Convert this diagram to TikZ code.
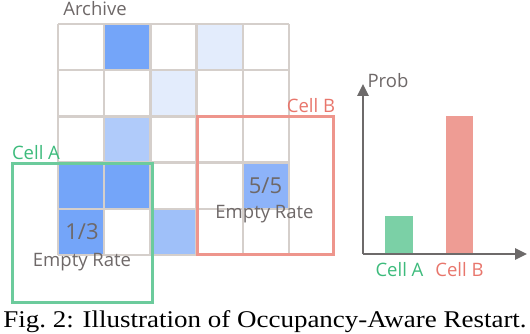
\documentclass[tikz,border=0pt]{standalone}
\usepackage{fontspec}
\setmainfont{Liberation Serif}
\setsansfont{Open Sans}
\usetikzlibrary{arrows.meta}

\definecolor{gridgray}{HTML}{D5CFCB}
\definecolor{textgray}{HTML}{6E6868}
\definecolor{axisgray}{HTML}{6D6A6A}
\definecolor{bluedark}{HTML}{74A5F9}
\definecolor{bluemid}{HTML}{8DB3F9}
\definecolor{bluesoft}{HTML}{9FC0F9}
\definecolor{bluelight}{HTML}{B0CBFA}
\definecolor{bluepale}{HTML}{E3ECFC}
\definecolor{boxgreen}{HTML}{6CCB9C}
\definecolor{labelgreen}{HTML}{3DBB7C}
\definecolor{barred}{HTML}{EE9C94}
\definecolor{boxred}{HTML}{EE958C}
\definecolor{labelred}{HTML}{E8766C}

\begin{document}
\begin{tikzpicture}[
  x=1pt, y=-1pt,
  font=\sffamily\fontsize{18.5}{20}\selectfont,
  gridline/.style={draw=gridgray, line width=2.5pt},
  plain/.style={text=textgray, inner sep=0pt, anchor=base},
  ratio/.style={plain, font=\sffamily\fontsize{22}{24}\selectfont},
  cellbox/.style={line width=3pt},
  axis/.style={draw=axisgray, line width=2.5pt, -{Triangle[length=12pt, width=11pt]}}
]
  \useasboundingbox (0,0) rectangle (530,334);

  % Archive grid: origin and cell size
  \def\gx{58}
  \def\gy{24}
  \def\cs{46.2}

  % Occupied cells (column/row/colour)
  \foreach \c/\r/\col in {1/0/bluedark, 3/0/bluepale, 2/1/bluepale,
                          1/2/bluelight, 0/3/bluedark, 1/3/bluedark,
                          4/3/bluemid, 0/4/bluedark, 2/4/bluesoft}
    \fill[\col] ({\gx+\c*\cs},{\gy+\r*\cs}) rectangle ++(\cs,\cs);

  \foreach \i in {0,...,5} {
    \draw[gridline] ({\gx+\i*\cs},\gy) -- ++(0,5*\cs);
    \draw[gridline] (\gx,{\gy+\i*\cs}) -- ++(5*\cs,0);
  }
  \node[plain] (archive) at (95,16) {Archive};

  % Selected cells
  \draw[cellbox, draw=boxred]   (197,117) rectangle (333,254);
  \draw[cellbox, draw=boxgreen] (12,163)  rectangle (152,302);
  \node[plain, text=labelgreen] (labelA) at (36,160)  {Cell A};
  \node[plain, text=labelred]   (labelB) at (311,113) {Cell B};

  \node[ratio] (rateA) at (82,239)    {1/3};
  \node[plain] (emptyA) at (82,266)   {Empty Rate};
  \node[ratio] (rateB) at (265.5,193) {5/5};
  \node[plain] (emptyB) at (264.5,218) {Empty Rate};

  % Restart probability
  \coordinate (origin) at (363,254);
  \coordinate (ytip) at (363,84);
  \coordinate (xtip) at (527,254);
  \fill[boxgreen!90!white] (385,216) rectangle (413,254);
  \fill[barred]            (446,116) rectangle (473,254);
  \draw[axis] (origin) -- (ytip);
  \draw[axis] (origin) -- (xtip);
  \node[plain] (prob) at (388,88) {Prob};
  \node[plain, text=labelgreen] (barA) at (399.5,276) {Cell A};
  \node[plain, text=labelred]   (barB) at (459.5,276) {Cell B};

  \node[inner sep=0pt, anchor=base, font=\rmfamily\fontsize{24}{26}\selectfont]
    (caption) at (265,327) {\scalebox{1.124}[1]{Fig.~2: Illustration of Occupancy-Aware Restart.}};
\end{tikzpicture}
\end{document}
